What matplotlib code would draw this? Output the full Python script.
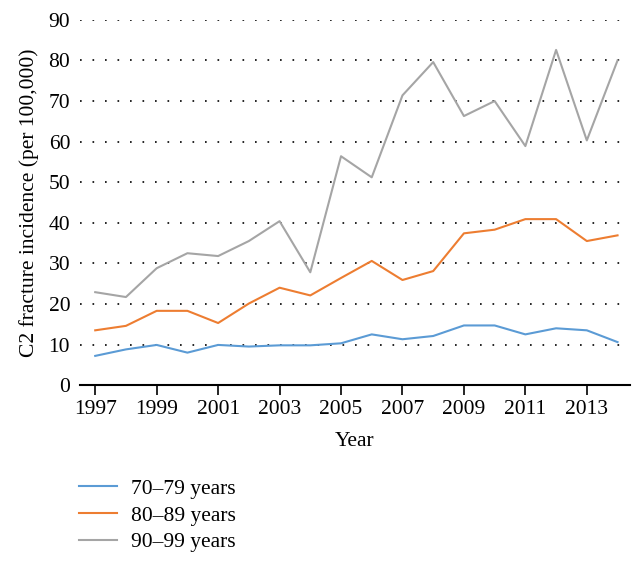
import matplotlib
matplotlib.use("Agg")
import matplotlib.pyplot as plt

plt.rcParams['font.family'] = ['Liberation Serif', 'DejaVu Serif']

# data
years = list(range(1997, 2015))
age_70_79 = [7.2, 8.8, 9.9, 8.0, 9.9, 9.5, 9.8, 9.8, 10.3, 12.5,
             11.3, 12.1, 14.7, 14.7, 12.5, 14.0, 13.5, 10.6]
age_80_89 = [13.5, 14.6, 18.3, 18.3, 15.3, 20.1, 24.0, 22.1, 26.4, 30.6,
             25.9, 28.1, 37.4, 38.3, 40.9, 40.9, 35.5, 36.9]
age_90_99 = [22.9, 21.7, 28.8, 32.5, 31.8, 35.5, 40.4, 27.8, 56.4, 51.2,
             71.4, 79.6, 66.3, 70.0, 58.9, 82.6, 60.3, 80.0]
series_labels = ['70\u201379 years', '80\u201389 years', '90\u201399 years']
colors = ['#5B9BD5', '#ED7D31', '#A5A5A5']
x_ticks = list(range(1997, 2015, 2))
y_ticks = list(range(0, 91, 10))

fig = plt.figure(figsize=(6.44, 5.68), dpi=100)
ax = fig.add_axes([0.124, 0.322, 0.854, 0.643])

lines = []
for vals, lab, c in zip([age_70_79, age_80_89, age_90_99], series_labels, colors):
    ln, = ax.plot(years, vals, color=c, lw=1.5, label=lab)
    lines.append(ln)

ax.set_xlim(1996.5, 2014.4)
ax.set_ylim(0, 90)
ax.set_xticks(x_ticks)
ax.set_yticks(y_ticks)
ax.tick_params(axis='x', direction='out', length=7, width=1.2, labelsize=15.5, pad=4)
ax.tick_params(axis='y', length=0, labelsize=15.5, pad=7)

for y in y_ticks[1:]:
    ax.axhline(y, color='black', lw=1.2, linestyle=(0, (1, 6.5)), zorder=0)

for side in ['top', 'right', 'left']:
    ax.spines[side].set_visible(False)
ax.spines['bottom'].set_linewidth(1.5)

ax.set_xlabel('Year', fontsize=15.5, labelpad=9)
ax.set_ylabel('C2 fracture incidence (per 100,000)', fontsize=15.5, labelpad=7)

fig.legend(handles=lines, loc='upper left', bbox_to_anchor=(0.11, 0.172),
           frameon=False, fontsize=15.5, handlelength=1.75, labelspacing=0.3,
           handletextpad=0.65, borderaxespad=0)

fig.savefig('out.png', dpi=100)
